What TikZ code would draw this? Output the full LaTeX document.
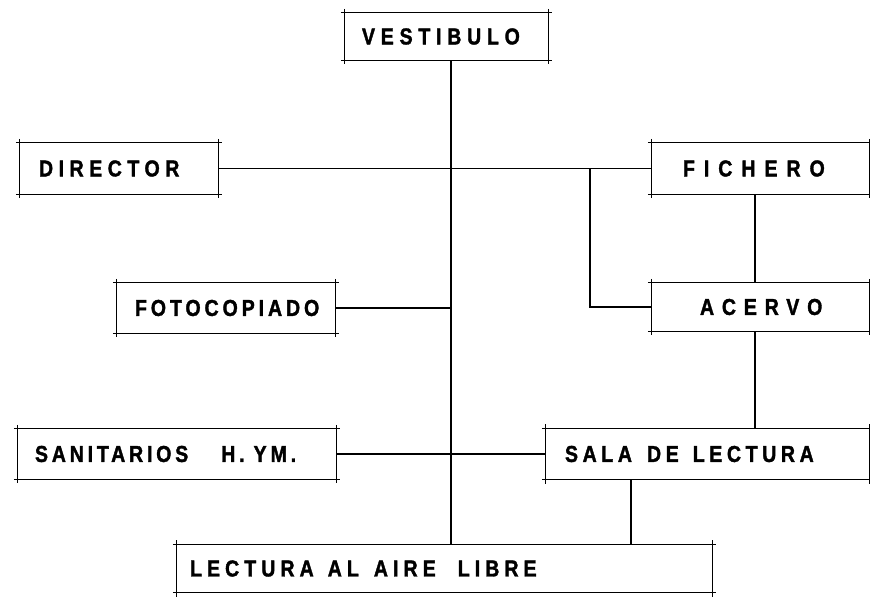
\documentclass[tikz,border=0pt]{standalone}
\usepackage{fontspec}
\newfontfamily\lf[FakeStretch=0.85,FakeBold=1.5]{Liberation Sans Bold}
\newcommand\ls[2]{\mbox{\addfontfeatures{LetterSpace=#1}#2}}
\begin{document}
\begin{tikzpicture}[x=1pt,y=-1pt,
  tickline/.style={draw, line width=1.1pt, shorten <=-4pt, shorten >=-4pt},
  box/.style={inner xsep=#1, inner ysep=0pt, align=left,
    font=\lf\fontsize{23}{23}\selectfont,
    append after command={(\tikzlastnode.north west) edge[tickline] (\tikzlastnode.north east)
      (\tikzlastnode.south west) edge[tickline] (\tikzlastnode.south east)
      (\tikzlastnode.north west) edge[tickline] (\tikzlastnode.south west)
      (\tikzlastnode.north east) edge[tickline] (\tikzlastnode.south east)}},
  conn/.style={line width=1.6pt}]
\useasboundingbox (0,0) rectangle (870,602);
\fill[white] (0,0) rectangle (870,602);

\node[box=17, text width=169pt, minimum height=47pt] (vest) at (446.5,36.5) {\ls{25}{VESTIBULO}};
\node[box=19, text width=160pt, minimum height=51pt] (dir) at (119,168.5) {\ls{24}{DIRECTOR}};
\node[box=31, text width=155pt, minimum height=51pt] (fich) at (760.5,168.5) {\ls{39}{FICHERO}};
\node[box=18, text width=182pt, minimum height=50pt] (foto) at (226,308) {\ls{17}{FOTOCOPIADO}};
\node[box=48, text width=121pt, minimum height=48pt] (acer) at (760.5,307) {\ls{34}{ACERVO}};
\node[box=17, text width=284pt, minimum height=50pt] (sani) at (177,454) {\ls{16.5}{SANITARIOS\hspace{33pt}H.\hspace{9pt}Y\hspace{4pt}M.}};
\node[box=19, text width=285pt, minimum height=51pt] (sala) at (707.5,454) {\ls{20}{SALA\hspace{15pt}DE\hspace{14pt}LECTURA}};
\node[box=13, text width=509pt, minimum height=48pt] (lect) at (444.5,568.5) {\ls{22}{LECTURA\hspace{14pt}AL\hspace{15pt}AIRE\hspace{22pt}LIBRE}};

\coordinate (spine) at (451,0);
\coordinate (br) at (590,0);
\coordinate (rv) at (755,0);
\coordinate (sv) at (631,0);

\draw[conn] (vest.south -| spine) -- (lect.north -| spine);
\draw[conn] (dir.east) -- (fich.west);
\draw[conn] (br |- fich.west) |- (acer.west);
\draw[conn] (foto.east) -- (foto.east -| spine);
\draw[conn] (fich.south -| rv) -- (acer.north -| rv);
\draw[conn] (acer.south -| rv) -- (sala.north -| rv);
\draw[conn] (sani.east) -- (sani.east -| sala.west);
\draw[conn] (sala.south -| sv) -- (lect.north -| sv);
\end{tikzpicture}
\end{document}
